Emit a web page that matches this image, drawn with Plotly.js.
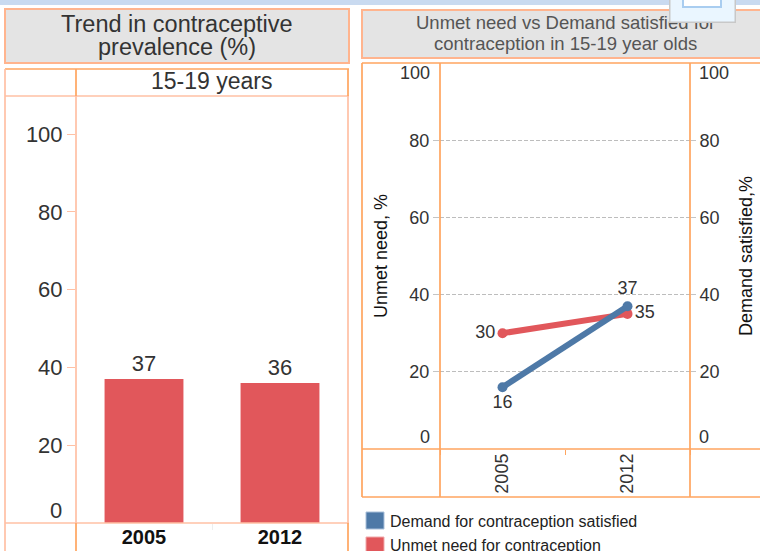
<!DOCTYPE html>
<html><head><meta charset="utf-8">
<script src="https://cdn.plot.ly/plotly-3.0.1.min.js"></script>
<style>html,body{margin:0;padding:0;background:#fff;overflow:hidden}#c{width:760px;height:551px}</style>
</head><body><div id="c"></div>
<script>
const years = ['2005', '2012'];
const prevalence = [37, 36];
const demandSatisfied = [16, 37];
const unmetNeed = [30, 35];
const leftTicks = [20, 40, 60, 80, 100];
const rightTicks = [20, 40, 60, 80];
const leftTitle = ['Trend in contraceptive', 'prevalence (%)'];
const rightTitle = ['Unmet need vs Demand satisfied for', 'contraception in 15-19 year olds'];
const panelLabel = '15-19 years';
const legendNames = ['Demand for contraception satisfied', 'Unmet need for contraception'];

const W = 760, H = 551;
const FONT = '"Liberation Sans", Arial, sans-serif';
const RED = '#e1575b', BLUE = '#4e79a7', TXT = '#333333';
const OR = '#ffa55f', LO = '#ffc0a4', TB = '#ffb48e';
const px = x => x / W, py = y => 1 - y / H;
const rect = (x0, y0, x1, y1, fill, line, lw) => ({type:'rect', xref:'paper', yref:'paper', x0:px(x0), x1:px(x1), y0:py(y0), y1:py(y1), fillcolor:fill, line:{color:line, width:lw===undefined?2:lw}, layer:'below'});
const seg = (x0, y0, x1, y1, c) => ({type:'line', xref:'paper', yref:'paper', x0:px(x0), x1:px(x1), y0:py(y0), y1:py(y1), line:{color:c, width:1.7}, layer:'above'});
const note = (x, y, text, size, color, xanchor) => ({xref:'paper', yref:'paper', x:px(x), y:py(y), xanchor:xanchor||'center', yanchor:'middle', text:text, showarrow:false, font:{family:FONT, size:size, color:color}, align:'center'});

const traces = [
  {type:'bar', x:years, y:prevalence, xaxis:'x', yaxis:'y', marker:{color:RED}, width:0.58,
   text:prevalence.map(String), textposition:'outside', textfont:{family:FONT, size:22, color:TXT}, cliponaxis:false, showlegend:false, hoverinfo:'skip'},
  {type:'scatter', mode:'lines+markers+text', x:years, y:unmetNeed, xaxis:'x2', yaxis:'y2', line:{color:RED, width:6}, marker:{color:RED, size:10},
   text:unmetNeed.map(String), textposition:['middle left','middle right'], textfont:{family:FONT, size:18, color:TXT}, cliponaxis:false, showlegend:false},
  {type:'scatter', mode:'lines+markers+text', x:years, y:demandSatisfied, xaxis:'x2', yaxis:'y3', line:{color:BLUE, width:6}, marker:{color:BLUE, size:10},
   text:demandSatisfied.map(String), textposition:['bottom center','top center'], textfont:{family:FONT, size:18, color:TXT}, cliponaxis:false, showlegend:false}
];

const layout = {
  width:W, height:H, margin:{l:0,r:0,t:0,b:0}, paper_bgcolor:'#fff', plot_bgcolor:'rgba(0,0,0,0)', showlegend:false, bargap:0.42,
  font:{family:FONT, color:TXT},
  xaxis:{domain:[px(76),px(348)], anchor:'y', type:'category', range:[-0.5,1.5], tickson:'boundaries', ticks:'outside', ticklen:6, tickcolor:'#eeeeee',
    showline:false, showgrid:false, zeroline:false, tickfont:{family:FONT, size:20, color:'#111', weight:700}},
  yaxis:{domain:[py(523),py(96)], anchor:'x', range:[0,109.8], tickvals:leftTicks, ticks:'outside', ticklen:8, tickcolor:LO, showgrid:false, zeroline:false, showline:false,
    tickfont:{family:FONT, size:22, color:TXT}},
  xaxis2:{domain:[px(440),px(690)], anchor:'y2', type:'category', range:[-0.5,1.5], tickson:'boundaries', ticks:'outside', ticklen:5, tickcolor:OR, tickangle:-90,
    showline:false, showgrid:false, zeroline:false, tickfont:{family:FONT, size:18, color:TXT}},
  yaxis2:{domain:[py(449),py(63)], anchor:'x2', range:[0,100], tickvals:rightTicks, ticks:'outside', ticklen:6, tickcolor:'#c4c4c4',
    showgrid:true, gridcolor:'#bdbdbd', griddash:'4px,2px', gridwidth:1, zeroline:false, showline:false, tickfont:{family:FONT, size:18, color:TXT},
    title:{text:'Unmet need, %', font:{family:FONT, size:18, color:'#111'}, standoff:17}},
  yaxis3:{domain:[py(449),py(63)], anchor:'x2', overlaying:'y2', side:'right', range:[0,100], tickvals:rightTicks, ticks:'outside', ticklen:5, tickcolor:'#c4c4c4',
    showgrid:false, zeroline:false, showline:false, tickfont:{family:FONT, size:18, color:TXT},
    title:{text:'Demand satisfied,%', font:{family:FONT, size:18, color:'#111'}, standoff:20}},
  shapes:[
    rect(-2,-2,762,5,'#c9daf0','#c9daf0',0),
    rect(5,9,349,63,'#e4e4e4',TB),
    rect(362,10,764,58,'#e4e4e4',TB),
    // left panel frame
    seg(5,69,349,69,OR), seg(5,96,349,96,LO), seg(5,523,349,523,LO),
    seg(5,69,5,551,LO), seg(76,69,76,96,OR), seg(76,96,76,523,LO), seg(76,523,76,551,OR),
    seg(348,69,348,96,OR), seg(348,96,348,523,LO), seg(348,523,348,551,OR),
    // right panel frame
    seg(362,63,760,63,OR), seg(362,449,760,449,OR), seg(362,497,760,497,OR),
    seg(362,63,362,497,OR), seg(440,63,440,497,OR), seg(690,63,690,497,OR),
    // legend swatches
    rect(366,512,384,529,BLUE,'#a9c0da',1),
    rect(366,537,384,554,RED,'#f0a9ab',1)
  ],
  annotations:[
    note(177,24,leftTitle[0],23.5,TXT),
    note(177,47,leftTitle[1],23.5,TXT),
    note(565,23,rightTitle[0],18.5,'#555'),
    note(565,44,rightTitle[1],18.5,'#555'),
    note(212,81.5,panelLabel,23,TXT),
    {xref:'paper', yref:'y', x:px(64), y:0, xanchor:'right', yanchor:'middle', yshift:13, text:'0', showarrow:false, font:{family:FONT, size:22, color:TXT}},
    {xref:'paper', yref:'y2', x:px(432), y:100, xanchor:'right', yanchor:'middle', yshift:-10, text:'100', showarrow:false, font:{family:FONT, size:18, color:TXT}},
    {xref:'paper', yref:'y2', x:px(432), y:0, xanchor:'right', yanchor:'middle', yshift:12, text:'0', showarrow:false, font:{family:FONT, size:18, color:TXT}},
    {xref:'paper', yref:'y3', x:px(697), y:100, xanchor:'left', yanchor:'middle', yshift:-10, text:'100', showarrow:false, font:{family:FONT, size:18, color:TXT}},
    {xref:'paper', yref:'y3', x:px(697), y:0, xanchor:'left', yanchor:'middle', yshift:12, text:'0', showarrow:false, font:{family:FONT, size:18, color:TXT}},
    note(388,521,legendNames[0],16,'#222','left'),
    note(388,545.5,legendNames[1],16,'#222','left'),
    // floating toolbar widget that overlaps the right title in the reference
    {xref:'paper', yref:'paper', x:px(702.5), y:py(4), xanchor:'center', yanchor:'middle', text:' ', showarrow:false, width:64, height:34, bgcolor:'#eaf6ff', bordercolor:'#c8c8c8', borderwidth:1.5, borderpad:0},
    {xref:'paper', yref:'paper', x:px(701.5), y:py(0), xanchor:'center', yanchor:'middle', text:' ', showarrow:false, width:36, height:11, bgcolor:'#ffffff', bordercolor:'#a9cdf0', borderwidth:2, borderpad:0}
  ]
};
Plotly.newPlot('c', traces, layout, {displayModeBar:false, staticPlot:true});
</script></body></html>
